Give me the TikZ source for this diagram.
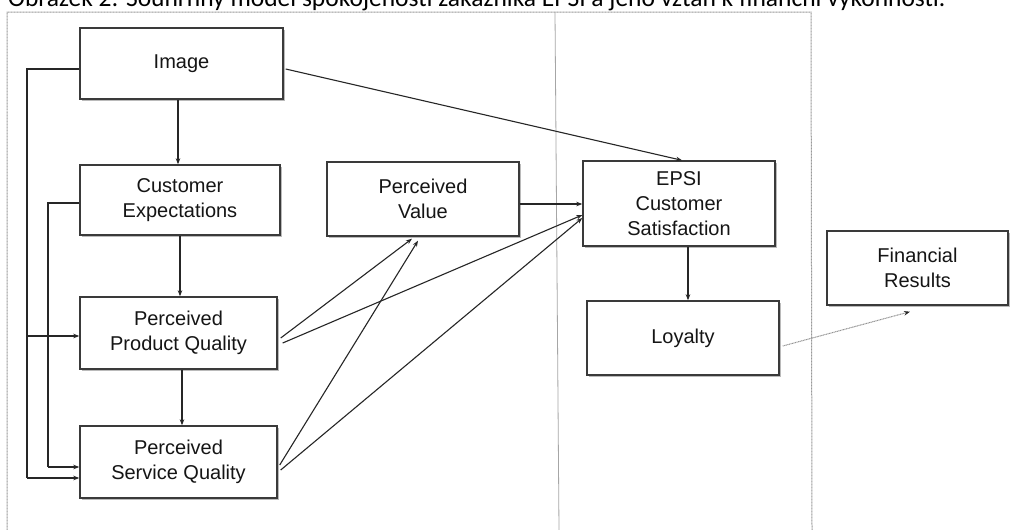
\documentclass[tikz,border=0pt]{standalone}
\usepackage{fontspec}
\setmainfont{Liberation Sans}
\newfontfamily\titlefont{Carlito}
\usetikzlibrary{arrows.meta,shadows,calc}
\definecolor{boxline}{HTML}{3A3A3A}
\definecolor{arr}{HTML}{262626}
\definecolor{txt}{HTML}{151515}
\tikzset{
  box/.style={draw=boxline, line width=1.4pt, fill=white, inner sep=0pt,
    align=center, text=txt, font=\fontsize{20}{25}\selectfont,
    drop shadow={shadow xshift=1.6pt, shadow yshift=-1.6pt, opacity=0.45, fill=black!60}},
  conn/.style={draw=arr, line width=1.1pt, -{Stealth[length=6pt,width=4.5pt]}},
  plainconn/.style={draw=arr, line width=1.1pt},
  dotconn/.style={draw=gray!85, line width=1pt, dash pattern=on 1pt off 0.6pt,
    -{Stealth[length=6pt,width=4.5pt,color=arr]}},
  frame/.style={draw=gray!80, line width=1pt, dash pattern=on 1pt off 0.5pt},
  midline/.style={draw=gray!70, line width=0.8pt}
}
\begin{document}
\begin{tikzpicture}[x=1pt,y=-1pt]
\useasboundingbox (0,0) rectangle (1012,530);
\clip (0,0) rectangle (1012,530);
\fill[white] (0,0) rectangle (1012,530);

% partly visible caption (cut off at the top, as in the reference)
\node[anchor=base west, inner sep=0pt, text=black] (title) at (8,6)
  {\titlefont\fontsize{25.5}{30}\selectfont Obrázek 2: Souhrnný model spokojenosti zákazníka EPSI a jeho vztah k finanční výkonnosti.};

% frame
\draw[frame] (7,530) -- (7,12) -- (811,12) -- (812,530);
\draw[midline] (555,12) -- (559,530);

% boxes
\node[box, minimum width=203pt, minimum height=71pt] (img) at (181.5,63.5) {Image};
\node[box, minimum width=200pt, minimum height=70pt] (ce) at (180,200) {Customer\\Expectations};
\node[box, minimum width=197pt, minimum height=72pt] (ppq) at (178.5,333) {Perceived\\Product Quality};
\node[box, minimum width=197pt, minimum height=72pt] (psq) at (178.5,462) {Perceived\\Service Quality};
\node[box, minimum width=192pt, minimum height=74pt] (pv) at (423,199) {Perceived\\Value};
\node[box, minimum width=192pt, minimum height=85pt] (epsi) at (679,203.5) {EPSI\\Customer\\Satisfaction};
\node[box, minimum width=192pt, minimum height=74pt] (loy) at (683,338) {Loyalty};
\node[box, minimum width=181pt, minimum height=74pt] (fin) at (917.5,268) {Financial\\Results};

% helper coordinates
\coordinate (imgL) at ($(img.west)+(0,5.5)$);
\coordinate (imgBus) at (27,69);
\coordinate (ceL) at ($(ce.west)+(0,3)$);
\coordinate (ceBus) at (48,203);

% connectors
\draw[conn] ($(img.south)+(-3.5,0)$) -- ($(ce.north)+(-2,0)$);
\draw[conn] (ce.south) -- ($(ppq.north)+(1.5,0)$);
\draw[conn] ($(ppq.south)+(3.5,0)$) -- ($(psq.north)+(3.5,0)$);

\draw[plainconn] (imgL) -- (imgBus) -- (27,478);
\draw[conn] (27,478) -- ($(psq.west)+(0,16)$);
\draw[conn] (27,336) -- ($(ppq.west)+(0,3)$);
\draw[plainconn] (ceL) -- (ceBus) -- (48,467);
\draw[conn] (48,467) -- ($(psq.west)+(0,5)$);

\draw[conn] ($(img.east)+(2,5.5)$) -- ($(epsi.north)+(3,0)$);

\draw[conn] ($(ppq.east)+(3,5)$) -- ($(pv.south)+(-11,2)$);
\draw[conn] ($(ppq.east)+(5,10)$) -- ($(epsi.west)+(0,11.5)$);
\draw[conn] ($(psq.east)+(2,3)$) -- ($(pv.south)+(-5,4)$);
\draw[conn] ($(psq.east)+(3,8)$) -- ($(epsi.west)+(0,14.5)$);
\draw[conn] ($(pv.east)+(0,5)$) -- ($(epsi.west)+(0,0.5)$);

\draw[conn] ($(epsi.south)+(9,0)$) -- ($(loy.north)+(5,0)$);
\draw[dotconn] ($(loy.east)+(3,8)$) -- ($(fin.south)+(-7.5,6)$);
\end{tikzpicture}
\end{document}
